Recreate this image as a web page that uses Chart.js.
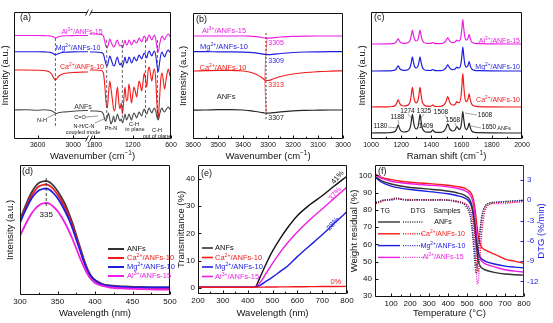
<!DOCTYPE html>
<html>
<head>
<meta charset="utf-8">
<script src="https://cdn.jsdelivr.net/npm/chart.js@4.4.0/dist/chart.umd.min.js"></script>
<style>
html, body { margin: 0; padding: 0; background: #fff; }
body { position: relative; width: 553px; height: 323px; overflow: hidden; }
</style>
</head>
<body>
<script>
// ---- data -----------------------------------------------------------
const samples = ['ANFs', 'Ca^{2+}/ANFs-10', 'Mg^{2+}/ANFs-10', 'Al^{3+}/ANFs-15'];

// (a) FTIR, broken axis
const ftirTickWave = [3600, 3000, 1800, 1200, 600];
const ftirLeftWave = [4000, 3800, 3600, 3500, 3450, 3400, 3360, 3330, 3300, 3280, 3250, 3200, 3150, 3100, 3000, 2900, 2800, 2750];
const ftirLeftANF = [29, 29.3, 28.8, 29.2, 29, 28.7, 28, 27, 26, 25.5, 26.2, 26.8, 27, 27.3, 27.8, 28.2, 28.5, 28.5];
const ftirLeftCa = [69, 69, 68.8, 68.5, 68, 67, 64.5, 61, 59, 60, 62.5, 64.5, 65.5, 66, 66.5, 66.7, 67, 67];
const ftirLeftMg = [87.3, 87.3, 87.2, 87.1, 87, 86.7, 86.2, 85.2, 84.2, 84.6, 85.5, 86.3, 86.7, 86.9, 87.1, 87.2, 87.2, 87.2];
const ftirLeftAl = [103.5, 103.5, 103.5, 103.4, 103.3, 103.1, 102.8, 102, 101, 101.4, 102.3, 102.9, 103.2, 103.3, 103.4, 103.5, 103.5, 103.5];
const ftirRightWave = [1870, 1780, 1700, 1660, 1640, 1620, 1600, 1580, 1560, 1540, 1520, 1500, 1480, 1460, 1440, 1420, 1400, 1380, 1360, 1340, 1320, 1300, 1280, 1260, 1240, 1220, 1200, 1180, 1160, 1140, 1120, 1100, 1080, 1060, 1040, 1020, 1000, 980, 960, 940, 920, 900, 880, 860, 840, 820, 800, 780, 760, 740, 720, 700, 680, 660, 640, 620, 600];
const ftirRightANF = [28, 28, 27.5, 25, 20, 18, 22, 26, 20, 15, 18, 23, 17, 20, 25, 21, 18, 20, 16, 20, 25, 19, 21, 25, 22, 19, 23, 26, 24, 21, 24, 27, 25, 23, 27, 30, 27, 25, 29, 31, 28, 26, 29, 31, 28, 22, 19, 24, 29, 31, 28, 27, 29, 31, 32, 30, 29];
const ftirRightCa = [69, 69, 68.5, 66, 55, 38, 31, 45, 58, 50, 40, 30, 28, 42, 52, 38, 30, 36, 25, 40, 52, 38, 40, 55, 47, 36, 44, 52, 48, 42, 50, 58, 54, 48, 56, 66, 60, 52, 68, 72, 64, 58, 66, 70, 60, 35, 20, 40, 60, 66, 58, 50, 58, 66, 70, 64, 62];
const ftirRightMg = [87, 87, 86.5, 85, 80, 75, 73, 78, 83, 80, 76, 73, 74, 79, 82, 77, 74, 76, 72, 77, 82, 76, 77, 82, 80, 76, 78, 82, 80, 78, 81, 84, 82, 80, 83, 86, 84, 81, 86, 88, 85, 83, 86, 88, 84, 74, 67, 76, 84, 87, 84, 82, 85, 88, 89, 87, 86];
const ftirRightAl = [105, 105, 104.5, 103, 98, 93, 91, 95, 100, 97, 94, 92, 93, 97, 99, 95, 93, 94, 91, 95, 99, 94, 95, 99, 97, 94, 96, 99, 97, 96, 98, 101, 99, 97, 100, 103, 101, 98, 102, 104, 101, 99, 102, 104, 100, 92, 87, 94, 100, 103, 101, 99, 102, 104, 105, 103, 102];

// (b) FTIR N-H region
const nhTicks = [3600, 3500, 3400, 3300, 3200, 3100, 3000];
const nhWave = [3600, 3550, 3500, 3450, 3400, 3375, 3350, 3325, 3313, 3300, 3280, 3250, 3200, 3150, 3100, 3050, 3000];
const nhANF = [28.8, 29, 29.3, 29.4, 29, 28.3, 27.5, 26.5, 26, 25.8, 26.3, 27.2, 28.2, 28.6, 28.8, 29, 29];
const nhCa = [68, 68.3, 68.6, 68.6, 68, 67, 65, 61.5, 59, 58.5, 60, 62.5, 65, 66.5, 67.3, 67.8, 68.2];
const nhMg = [87.3, 87.3, 87.2, 87.1, 86.9, 86.6, 86.1, 85.2, 84.6, 84.4, 84.7, 85.5, 86.5, 87, 87.2, 87.3, 87.3];
const nhAl = [103, 103, 103, 103, 103, 102.8, 102.3, 101.5, 101, 100.8, 101.2, 102, 102.6, 102.9, 103, 103, 103];

// (c) Raman
const ramanTicks = [1000, 1200, 1400, 1600, 1800, 2000];
const ramanShift = [1000, 1100, 1140, 1160, 1170, 1176, 1180, 1186, 1192, 1200, 1215, 1235, 1250, 1260, 1267, 1274, 1281, 1288, 1300, 1312, 1318, 1325, 1332, 1340, 1352, 1370, 1390, 1402, 1409, 1416, 1430, 1460, 1480, 1495, 1502, 1508, 1514, 1522, 1540, 1555, 1563, 1568, 1574, 1585, 1596, 1602, 1608, 1614, 1622, 1632, 1642, 1650, 1658, 1668, 1685, 1720, 1800, 1900, 2000];
const ramanANF = [6, 6.2, 6.6, 7.7, 10, 12.8, 14, 11.8, 9.4, 7.9, 7, 7.3, 8.5, 11.6, 17.6, 24.6, 18, 12.3, 10, 12.7, 18, 24.6, 17.3, 10.8, 7.9, 6.8, 6.9, 7.8, 9.2, 7.8, 6.6, 6.7, 7.5, 10.2, 13.3, 15.2, 13.4, 10.1, 8, 8.8, 11, 12.5, 11.4, 9.6, 12.7, 19.6, 27.3, 19.9, 11.8, 9.4, 11.8, 15.9, 11.1, 7.9, 6.7, 6.3, 6.1, 6, 6];
const ramanCa = [32, 32.2, 32.5, 33.5, 35.7, 38.2, 39.2, 37.3, 35.1, 33.7, 33, 33.3, 34.6, 37.9, 44.2, 51.6, 44.6, 38.6, 36.2, 39.1, 44.6, 51.6, 43.9, 37.1, 34, 32.8, 32.7, 33.3, 34.2, 33.3, 32.5, 32.7, 33.7, 36.7, 40.1, 42.3, 40.3, 36.6, 34, 34.4, 36.2, 37.4, 36.5, 36.4, 42.5, 53.3, 65.4, 53.7, 41, 37.3, 39.7, 45.2, 38.8, 34.6, 33, 32.4, 32.1, 32, 32];
const ramanMg = [68, 68.1, 68.4, 69.1, 70.7, 72.5, 73.2, 71.8, 70.2, 69.2, 68.7, 68.9, 69.9, 72.2, 76.8, 82.1, 77.1, 72.8, 71, 73.1, 77.1, 82.1, 76.6, 71.7, 69.4, 68.6, 68.5, 68.9, 69.5, 68.9, 68.4, 68.4, 69, 70.8, 72.9, 74.2, 73, 70.8, 69.3, 69.7, 71, 71.9, 71.2, 71.2, 75.6, 83.3, 92, 83.6, 74.5, 71.8, 73.5, 77.5, 72.9, 69.9, 68.7, 68.3, 68.1, 68, 68];
const ramanAl = [95, 95.1, 95.4, 96.1, 97.7, 99.4, 100.1, 98.8, 97.2, 96.2, 95.7, 95.9, 96.9, 99.2, 103.7, 109, 104, 99.8, 98, 100.1, 104, 109, 103.6, 98.7, 96.4, 95.6, 95.5, 95.9, 96.5, 95.9, 95.4, 95.4, 96, 97.8, 99.9, 101.2, 100, 97.8, 96.3, 96.7, 98, 98.9, 98.2, 98.2, 102.8, 110.8, 119.3, 111, 101.6, 98.8, 100.5, 104.6, 99.9, 96.9, 95.7, 95.3, 95.1, 95, 95];

// (d) fluorescence
const flTicks = [300, 350, 400, 450, 500];
const flWave = [300, 305, 310, 315, 320, 325, 330, 335, 340, 345, 350, 355, 360, 365, 370, 375, 380, 385, 390, 395, 400, 410, 420, 440, 460, 480, 500];
const flANF = [75, 85, 94, 102, 108, 112, 113.5, 114, 112.5, 109, 104, 98, 91, 82, 72, 60, 48, 36, 26, 19, 15, 11, 9.5, 8.5, 8, 7.5, 7.5];
const flCa = [73, 82.5, 91, 98.5, 104.5, 108.5, 110, 110.5, 109, 105.5, 100.5, 94.5, 87.5, 79, 69, 57.5, 46, 34.5, 25, 18, 14.5, 10.5, 9, 8, 7.5, 7, 7];
const flMg = [72, 81, 89, 96, 101, 104.5, 106, 106.5, 105, 101.5, 97, 91, 84, 76, 66.5, 55.5, 44.5, 33.5, 24.5, 18, 14.5, 10.5, 9, 8, 7.5, 7.5, 7.5];
const flAl = [59, 67, 74.5, 81, 86, 89.5, 91.5, 92, 91, 88, 84, 78.5, 72, 64.5, 56, 46.5, 37, 28.5, 21, 15.5, 12, 9, 7.5, 6.5, 6, 5.5, 5.5];

// (e) transmittance
const trXTicks = [200, 300, 400, 500, 600, 700, 800];
const trYTicks = [0, 10, 20, 30, 40];
const trWave = [200, 300, 400, 430, 450, 475, 500, 530, 560, 600, 650, 700, 750, 800];
const trANF = [0.3, 0.3, 0.3, 0.4, 4, 9, 13.5, 18, 22, 26.5, 30.5, 33.8, 37.5, 41];
const trCa = [0.3, 0.3, 0.3, 0.3, 0.32, 0.35, 0.38, 0.4, 0.43, 0.46, 0.5, 0.54, 0.57, 0.6];
const trMg = [0.3, 0.3, 0.3, 0.3, 1, 2.5, 4, 6, 8, 11.5, 15.5, 19.5, 23.8, 28];
const trAl = [0.3, 0.3, 0.3, 0.3, 2, 5.5, 9, 13, 16.5, 20.5, 25, 29, 33, 37];

// (f) TG / DTG
const tgXTicks = [100, 200, 300, 400, 500, 600, 700, 800];
const tgYTicks = [30, 40, 50, 60, 70, 80, 90, 100];
const dtgYTicks = [-12, -9, -6, -3, 0, 3];
const tgTemp = [20, 50, 100, 150, 200, 250, 300, 350, 400, 450, 480, 500, 510, 520, 530, 540, 550, 560, 570, 580, 600, 650, 700, 750, 800];
const tgANF = [99, 96.8, 95, 93.8, 93, 92.5, 92, 91.5, 90.8, 89.8, 88.8, 87.5, 86.5, 84.5, 80, 71, 58, 50, 47.3, 46.2, 45, 43.6, 42.8, 42.4, 42.2];
const tgCa = [100.5, 98.8, 97.5, 96.6, 96, 95.6, 95.2, 94.8, 94.3, 93.5, 92.8, 91.8, 91, 89.8, 87.5, 82, 73, 64, 60, 58, 56.5, 54, 51.5, 50.3, 49];
const tgMg = [98.5, 96, 93.8, 92.6, 91.8, 91.2, 90.6, 90, 89.3, 88.2, 87.2, 86, 85, 83, 79, 71, 61, 55, 52.5, 51.3, 50, 48.5, 47.4, 46.8, 46.4];
const tgAl = [100, 98.2, 96.6, 95.7, 95.1, 94.7, 94.3, 93.9, 93.3, 92.4, 91.5, 90.4, 89.5, 88, 85, 78, 66, 55, 51.5, 50, 48.5, 46.8, 45.3, 44.5, 44];
const dtgTemp = [20, 40, 60, 80, 100, 130, 160, 200, 240, 280, 320, 360, 400, 440, 470, 490, 510, 520, 530, 540, 545, 550, 555, 560, 565, 570, 580, 590, 600, 620, 650, 700, 750, 800];
const dtgANF = [-0.4, -0.2, 0, 0, 0.1, 0.3, 0.1, 0, 0.1, 0, 0.1, 0, 0, -0.2, -0.4, -0.8, -1.8, -3, -5.5, -9, -10.5, -10.8, -9.5, -7.5, -5.5, -4, -2, -1.1, -0.7, -0.4, -0.3, -0.2, -0.1, 0];
const dtgCa = [-0.5, -0.3, -0.1, 0, 0.1, 0.2, 0.1, 0.1, 0, 0.1, 0, 0.1, 0, -0.1, -0.3, -0.5, -1, -1.6, -2.8, -5, -6.8, -8.8, -10.3, -10.5, -9.3, -7.5, -4.2, -2.2, -1.2, -0.6, -0.4, -0.3, -0.3, -0.2];
const dtgMg = [-0.3, -0.2, 0, 0.1, 0, 0.2, 0.1, 0, 0.1, 0, 0, 0.1, 0, -0.2, -0.4, -0.7, -1.5, -2.6, -4.8, -7.8, -9.3, -9.8, -9.2, -7.5, -5.8, -4.2, -2.2, -1.2, -0.7, -0.4, -0.3, -0.2, -0.1, 0];
const dtgAl = [-0.4, -0.2, 0, 0, 0.2, 0.3, 0.1, 0, 0, 0.1, 0, 0, 0, -0.1, -0.3, -0.5, -1.1, -1.8, -3.2, -6, -8.5, -11, -12.4, -11.8, -9.5, -7, -3.5, -1.8, -1, -0.6, -0.5, -0.5, -0.3, -0.2];

// ---- styling helpers --------------------------------------------------
const K = '#262626', R = '#f21c1c', B = '#1e1ee0', P = '#ee1fe3';
const FAMILY = '"Liberation Sans", Arial, sans-serif';
Chart.defaults.font.family = FAMILY;
Chart.defaults.color = '#111';

const font = size => `${size}px ${FAMILY}`;

// draws "Ca^{2+}/ANFs-10" style text with superscripts
function richText(ctx, s, x, y, o) {
    const size = o.z || 7;
    const parts = [];
    const re = /\^\{([^}]*)\}/g;
    let last = 0, m;
    while ((m = re.exec(s))) {
        if (m.index > last) parts.push([s.slice(last, m.index), 0]);
        parts.push([m[1], 1]);
        last = re.lastIndex;
    }
    if (last < s.length) parts.push([s.slice(last), 0]);
    ctx.save();
    ctx.translate(x, y);
    if (o.r) ctx.rotate(o.r * Math.PI / 180);
    let w = 0;
    const ws = parts.map(p => {
        ctx.font = font(p[1] ? size * 0.68 : size);
        const pw = ctx.measureText(p[0]).width;
        w += pw;
        return pw;
    });
    let cx = o.al === 'left' ? 0 : o.al === 'right' ? -w : -w / 2;
    ctx.fillStyle = o.c || '#111';
    ctx.textBaseline = 'middle';
    ctx.textAlign = 'left';
    parts.forEach((p, i) => {
        ctx.font = font(p[1] ? size * 0.68 : size);
        ctx.fillText(p[0], cx, p[1] ? -size * 0.32 : 0);
        cx += ws[i];
    });
    ctx.restore();
}

const deco = {};

const decoPlugin = {
    id: 'deco',
    afterDraw(chart) {
        const d = deco[chart.canvas.id];
        if (!d) return;
        const ctx = chart.ctx, a = chart.chartArea, sx = chart.scales.x;
        const L = Math.round(a.left) + 0.5, T = Math.round(a.top) + 0.5;
        const Rr = Math.round(a.right) - 0.5, Bb = Math.round(a.bottom) - 0.5;
        const seg = (x1, y1, x2, y2, c, w) => {
            ctx.strokeStyle = c; ctx.lineWidth = w || 1;
            ctx.beginPath(); ctx.moveTo(x1, y1); ctx.lineTo(x2, y2); ctx.stroke();
        };
        ctx.save();
        // frame
        seg(L, T, Rr, T, '#111');
        seg(L, Bb, Rr, Bb, '#111');
        seg(L, T, L, Bb, '#111');
        seg(Rr, T, Rr, Bb, d.rightColor || '#111');
        // inward ticks
        const xt = sx.ticks.map(t => t.value);
        xt.forEach(v => { const p = Math.round(sx.getPixelForValue(v)) + 0.5; seg(p, Bb, p, Bb - 3, '#111'); });
        if (d.minorX) {
            for (let i = 0; i < xt.length - 1; i++) {
                const p = Math.round(sx.getPixelForValue((xt[i] + xt[i + 1]) / 2)) + 0.5;
                seg(p, Bb, p, Bb - 1.8, '#111');
            }
        }
        if (d.yTicks) {
            chart.scales.y.ticks.forEach(t => { const p = Math.round(chart.scales.y.getPixelForValue(t.value)) + 0.5; seg(L, p, L + 3, p, '#111'); });
        }
        if (chart.scales.y2) {
            chart.scales.y2.ticks.forEach(t => { const p = Math.round(chart.scales.y2.getPixelForValue(t.value)) + 0.5; seg(Rr, p, Rr - 3, p, d.rightColor); });
        }
        // axis break
        if (d.brk !== undefined) {
            const p = sx.getPixelForValue(d.brk);
            [Bb, T].forEach(yy => {
                ctx.fillStyle = '#fff';
                ctx.fillRect(p - 1.5, yy - 1, 3, 2);
                seg(p - 3.5, yy + 3, p - 0.5, yy - 3, '#111', 0.8);
                seg(p + 0.5, yy + 3, p + 3.5, yy - 3, '#111', 0.8);
            });
        }
        // titles
        const tz = d.tz || 9.5;
        if (d.xTitle) richText(ctx, d.xTitle[0], (a.left + a.right) / 2, a.bottom + d.xTitle[1], { z: tz });
        if (d.yTitle) richText(ctx, d.yTitle[0], a.left - d.yTitle[1], (a.top + a.bottom) / 2, { z: tz, r: -90 });
        if (d.y2Title) richText(ctx, d.y2Title[0], a.right + d.y2Title[1], (a.top + a.bottom) / 2, { z: tz, r: -90, c: d.rightColor });
        // notes
        const ys = id => chart.scales[id || 'y'];
        (d.items || []).forEach(it => {
            if (it.k === 't') {
                richText(ctx, it.s, sx.getPixelForValue(it.x), ys(it.axis).getPixelForValue(it.y), it);
            } else if (it.k === 'pt') {
                richText(ctx, it.s, a.left + it.ax, a.top + it.ay, it);
            } else {
                const pts = it.k === 'l'
                    ? it.pts.map(p => [sx.getPixelForValue(p[0]), ys(it.axis).getPixelForValue(p[1])])
                    : it.pts.map(p => [a.left + p[0], a.top + p[1]]);
                ctx.save();
                ctx.strokeStyle = it.c || '#333';
                ctx.lineWidth = it.w || 0.8;
                ctx.setLineDash(it.dash || []);
                ctx.beginPath();
                pts.forEach((p, i) => i ? ctx.lineTo(p[0], p[1]) : ctx.moveTo(p[0], p[1]));
                ctx.stroke();
                ctx.restore();
            }
        });
        ctx.restore();
    }
};
Chart.register(decoPlugin);

function series(xs, ys, color, extra) {
    return Object.assign({
        data: xs.map((x, i) => ({ x, y: ys[i] })),
        borderColor: color,
        backgroundColor: color,
        borderWidth: 1.2,
        pointRadius: 0,
        fill: false,
        cubicInterpolationMode: 'monotone'
    }, extra || {});
}

// box = [left, top, width, height] of canvas; area = [left, top, right, bottom] of plot frame (page px)
function makeChart(id, box, area, cfg) {
    const cv = document.createElement('canvas');
    cv.id = id;
    cv.width = box[2];
    cv.height = box[3];
    cv.style.cssText = `position:absolute;left:${box[0]}px;top:${box[1]}px;width:${box[2]}px;height:${box[3]}px;`;
    document.body.appendChild(cv);
    const leftW = area[0] - box[0];
    const topP = area[1] - box[1];
    const rightW = box[0] + box[2] - area[2];
    const bottomH = box[1] + box[3] - area[3];
    const tickFont = { size: cfg.tickSize || 7 };
    const noGrid = { display: false, drawTicks: false };
    const scales = {
        x: Object.assign({
            type: 'linear',
            grid: noGrid,
            border: { display: false },
            ticks: { font: tickFont, color: '#111', padding: cfg.xPad || 2, maxRotation: 0, autoSkip: false, callback: cfg.xLabel || (v => String(v)) },
            afterBuildTicks: s => { s.ticks = cfg.xTicks.map(v => ({ value: v })); },
            afterFit: s => { s.height = bottomH; s.paddingLeft = 0; s.paddingRight = 0; }
        }, cfg.x),
        y: Object.assign({
            type: 'linear',
            grid: noGrid,
            border: { display: false },
            ticks: { display: !!cfg.yTicks, font: tickFont, color: '#111', padding: 3 },
            afterBuildTicks: s => { if (cfg.yTicks) s.ticks = cfg.yTicks.map(v => ({ value: v })); },
            afterFit: s => { s.width = leftW; s.paddingTop = 0; s.paddingBottom = 0; }
        }, cfg.y)
    };
    if (cfg.y2) {
        scales.y2 = Object.assign({
            type: 'linear',
            position: 'right',
            grid: noGrid,
            border: { display: false },
            ticks: { font: tickFont, color: B, padding: 3, callback: v => String(v) },
            afterBuildTicks: s => { s.ticks = cfg.y2Ticks.map(v => ({ value: v })); },
            afterFit: s => { s.width = rightW; s.paddingTop = 0; s.paddingBottom = 0; }
        }, cfg.y2);
    }
    deco[id] = cfg.deco;
    return new Chart(cv, {
        type: 'line',
        data: { datasets: cfg.datasets },
        options: {
            responsive: false,
            animation: false,
            devicePixelRatio: 1,
            events: [],
            layout: { autoPadding: false, padding: { top: topP, right: cfg.y2 ? 0 : rightW, left: 0, bottom: 0 } },
            plugins: { legend: { display: false }, tooltip: { enabled: false } },
            scales
        }
    });
}

// ---- (a) FTIR full range with break ------------------------------------
const mapA = w => w >= 2750 ? (4000 - w) / 1250 * 74 : 76 + (1870 - w) / 1270 * 81;
const broken = (left, right) => ftirLeftWave.map((w, i) => ({ x: mapA(w), y: left[i] }))
    .concat([{ x: 75, y: null }])
    .concat(ftirRightWave.map((w, i) => ({ x: mapA(w), y: right[i] })));
const ftirLine = (left, right, color) => ({
    data: broken(left, right), borderColor: color, borderWidth: 1.1, pointRadius: 0,
    fill: false, cubicInterpolationMode: 'monotone', spanGaps: false
});
const dashA = w => ({ k: 'l', pts: [[mapA(w), 99], [mapA(w), 19]], dash: [3, 2], c: '#444', w: 0.8 });

makeChart('chartA', [0, 0, 182, 163], [14, 12, 171, 139], {
    tickSize: 7,
    x: { min: 0, max: 157 },
    y: { min: 0, max: 127 },
    xTicks: ftirTickWave.map(mapA),
    xLabel: (v, i) => String(ftirTickWave[i]),
    datasets: [
        ftirLine(ftirLeftANF, ftirRightANF, '#4a4a4a'),
        ftirLine(ftirLeftCa, ftirRightCa, R),
        ftirLine(ftirLeftMg, ftirRightMg, B),
        ftirLine(ftirLeftAl, ftirRightAl, P)
    ],
    deco: {
        xTitle: ['Wavenumber (cm^{−1})', 17], yTitle: ['Intensity (a.u.)', 9], brk: 75,
        items: [
            { k: 'l', pts: [[mapA(3300), 101], [mapA(3300), 12]], dash: [3, 2], c: '#444', w: 0.8 },
            dashA(1608), dashA(1363), dashA(1000), dashA(813),
            { k: 'pt', ax: 6, ay: 6, s: '(a)', z: 9, al: 'left' },
            { k: 'pt', ax: 68, ay: 20, s: samples[3], c: P, z: 7 },
            { k: 'pt', ax: 64, ay: 36, s: samples[2], c: B, z: 7 },
            { k: 'pt', ax: 68, ay: 55, s: samples[1], c: R, z: 7 },
            { k: 'pt', ax: 69, ay: 95, s: 'ANFs', c: '#333', z: 7 },
            { k: 'pt', ax: 28, ay: 108, s: 'N-H', z: 5.5 },
            { k: 'pt', ax: 66, ay: 105, s: 'C=O', z: 5.5 },
            { k: 'pt', ax: 70, ay: 114, s: 'N-H/C-N', z: 5.5 },
            { k: 'pt', ax: 69, ay: 120, s: 'coupled mode', z: 5.5 },
            { k: 'pt', ax: 97, ay: 116, s: 'Ph-N', z: 5.5 },
            { k: 'pt', ax: 120, ay: 112, s: 'C-H', z: 5.5 },
            { k: 'pt', ax: 121, ay: 117.5, s: 'in plane', z: 5.5 },
            { k: 'pt', ax: 143, ay: 118, s: 'C-H', z: 5.5 },
            { k: 'pt', ax: 143, ay: 124, s: 'out of plane', z: 5.5 },
            { k: 'pl', pts: [[33, 106], [41, 102]], c: '#555', w: 0.6 },
            { k: 'pl', pts: [[72, 105], [84, 104]], c: '#555', w: 0.6 },
            { k: 'pl', pts: [[81, 111], [92, 106]], c: '#555', w: 0.6 },
            { k: 'pl', pts: [[97, 112], [99, 107]], c: '#555', w: 0.6 }
        ]
    }
});

// ---- (b) N-H stretching ------------------------------------------------
makeChart('chartB', [176, 0, 182, 163], [193, 13, 343, 139], {
    tickSize: 7,
    x: { min: 3000, max: 3600, reverse: true },
    y: { min: 0, max: 126 },
    xTicks: nhTicks,
    datasets: [
        series(nhWave, nhANF, K),
        series(nhWave, nhCa, R),
        series(nhWave, nhMg, B),
        series(nhWave, nhAl, P)
    ],
    deco: {
        xTitle: ['Wavenumber (cm^{−1})', 17], yTitle: ['Intensity (a.u.)', 10], minorX: true,
        items: [
            { k: 'l', pts: [[3308, 106], [3308, 20]], dash: [2, 2], c: K, w: 0.9 },
            { k: 'l', pts: [[3304, 100.8], [3309, 84.4], [3313, 58.6], [3307, 25.8]], c: R, w: 0.6 },
            { k: 'pt', ax: 3, ay: 7, s: '(b)', z: 9, al: 'left' },
            { k: 'pt', ax: 31, ay: 18, s: samples[3], c: P, z: 7.5 },
            { k: 'pt', ax: 31, ay: 34, s: samples[2], c: B, z: 7.5 },
            { k: 'pt', ax: 30, ay: 55, s: samples[1], c: R, z: 7.5 },
            { k: 'pt', ax: 33, ay: 84, s: 'ANFs', c: K, z: 7.5 },
            { k: 't', x: 3299, y: 96, s: '3305', c: P, z: 7, al: 'left' },
            { k: 't', x: 3299, y: 78, s: '3309', c: B, z: 7, al: 'left' },
            { k: 't', x: 3299, y: 54, s: '3313', c: R, z: 7, al: 'left' },
            { k: 't', x: 3299, y: 21, s: '3307', c: K, z: 7, al: 'left' }
        ]
    }
});

// ---- (c) Raman ---------------------------------------------------------
const peakLabels = [
    ['1180', 9.5, 114.7], ['1188', 26.5, 105.3], ['1274', 36.5, 99.7], ['1325', 53, 99.7],
    ['1409', 55, 114.7], ['1508', 70, 100.7], ['1568', 82, 108.7], ['1608', 114, 103], ['1650', 118, 115.7]
];
const leaders = [
    [[17, 115], [26, 116]], [[27, 108], [28, 113]], [[37, 102], [40, 106]], [[53, 102], [50, 106]],
    [[59, 112], [62, 116]], [[74, 103], [78, 110]], [[84, 111], [86, 116]], [[106, 103], [94, 101]], [[110, 116], [100, 114]]
];
makeChart('chartC', [356, 0, 197, 163], [371, 12, 522, 139], {
    tickSize: 7,
    x: { min: 1000, max: 2000 },
    y: { min: 0, max: 127 },
    xTicks: ramanTicks,
    datasets: [
        series(ramanShift, ramanANF, K),
        series(ramanShift, ramanCa, R),
        series(ramanShift, ramanMg, B),
        series(ramanShift, ramanAl, P)
    ],
    deco: {
        xTitle: ['Raman shift (cm^{−1})', 17], yTitle: ['Intensity (a.u.)', 9], minorX: true,
        items: [
            { k: 'pt', ax: 3, ay: 6, s: '(c)', z: 9, al: 'left' },
            { k: 'pt', ax: 149, ay: 29, s: samples[3], c: P, z: 7, al: 'right' },
            { k: 'pt', ax: 149, ay: 55, s: samples[2], c: B, z: 7, al: 'right' },
            { k: 'pt', ax: 149, ay: 88, s: samples[1], c: R, z: 7, al: 'right' },
            { k: 'pt', ax: 140, ay: 116, s: 'ANFs', c: K, z: 5.5, al: 'right' }
        ].concat(peakLabels.map(p => ({ k: 'pt', s: p[0], ax: p[1], ay: p[2], z: 6.5 })))
         .concat(leaders.map(p => ({ k: 'pl', pts: p, c: '#666', w: 0.6 })))
    }
});

// ---- (d) fluorescence ----------------------------------------------------
const legendRows = (x0, x1, tx, y0, dy, w) => [K, R, B, P].flatMap((c, i) => [
    { k: 'pl', pts: [[x0, y0 + dy * i], [x1, y0 + dy * i]], c: i === 0 ? '#333' : c, w: w },
    { k: 'pt', ax: tx, ay: y0 + dy * i, s: samples[i], c: i === 0 ? '#111' : c, z: 7.5, al: 'left' }
]);
makeChart('chartD', [0, 160, 180, 163], [20, 165, 170, 295], {
    tickSize: 8,
    x: { min: 300, max: 500 },
    y: { min: 0, max: 130 },
    xTicks: flTicks,
    datasets: [
        series(flWave, flAl, P, { borderWidth: 1.8 }),
        series(flWave, flMg, B, { borderWidth: 1.8 }),
        series(flWave, flCa, R, { borderWidth: 1.8 }),
        series(flWave, flANF, '#3a3a3a', { borderWidth: 1.8 })
    ],
    deco: {
        xTitle: ['Wavelength (nm)', 18], yTitle: ['Intensity (a.u.)', 10], minorX: true,
        items: [
            { k: 'l', pts: [[335, 117], [335, 87]], dash: [3, 2], c: '#333', w: 0.9 },
            { k: 't', x: 335, y: 80, s: '335', z: 8 },
            { k: 'pt', ax: 2, ay: 7, s: '(d)', z: 9, al: 'left' }
        ].concat(legendRows(88, 104, 107, 84, 9, 2))
    }
});

// ---- (e) transmittance ----------------------------------------------------
makeChart('chartE', [172, 160, 184, 163], [198, 165, 347, 294], {
    tickSize: 8,
    x: { min: 200, max: 800 },
    y: { min: -2.2, max: 45.1 },
    xTicks: trXTicks,
    yTicks: trYTicks,
    datasets: [
        series(trWave, trCa, R, { borderWidth: 1.4 }),
        series(trWave, trMg, B, { borderWidth: 1.4 }),
        series(trWave, trAl, P, { borderWidth: 1.4 }),
        series(trWave, trANF, '#111', { borderWidth: 1.4 })
    ],
    deco: {
        xTitle: ['Wavelength (nm)', 19], yTitle: ['Transmittance (%)', 17], yTicks: true, minorX: true,
        items: [
            { k: 'pt', ax: 3, ay: 9, s: '(e)', z: 9, al: 'left' },
            { k: 't', x: 762, y: 40.5, s: '41%', c: '#111', z: 7.5, r: -50 },
            { k: 't', x: 752, y: 34.5, s: '37%', c: P, z: 7.5, r: -50 },
            { k: 't', x: 744, y: 23.5, s: '28%', c: B, z: 7.5, r: -50 },
            { k: 't', x: 755, y: 2.2, s: '0%', c: R, z: 7.5 }
        ].concat(legendRows(4, 15, 17, 83, 9.5, 1.6))
    }
});

// ---- (f) TG / DTG --------------------------------------------------------
const tgColors = ['#333', R, B, P];
const tgLegend = [
    { k: 'pt', ax: 10, ay: 46, s: 'TG', z: 7 },
    { k: 'pt', ax: 43, ay: 46, s: 'DTG', z: 7 },
    { k: 'pt', ax: 72, ay: 46, s: 'Samples', z: 7 }
].concat(tgColors.flatMap((c, i) => {
    const yy = 57 + i * 11.8;
    return [
        { k: 'pl', pts: [[3, yy], [25, yy]], c: c, w: 1.4 },
        { k: 'pl', pts: [[28, yy], [48, yy]], c: c, w: 1.4, dash: [1, 1.3] },
        { k: 'pt', ax: 68, ay: yy, s: samples[i], c: i === 0 ? '#111' : c, z: 7 }
    ];
}));
makeChart('chartF', [348, 160, 205, 163], [375, 165, 524, 297], {
    tickSize: 8,
    x: { min: 15, max: 800 },
    y: { min: 29.5, max: 106 },
    y2: { min: -14.3, max: 5.2 },
    xTicks: tgXTicks,
    yTicks: tgYTicks,
    y2Ticks: dtgYTicks,
    datasets: [
        series(dtgTemp, dtgANF, '#333', { yAxisID: 'y2', borderWidth: 1.3, borderDash: [1, 1.3] }),
        series(dtgTemp, dtgCa, R, { yAxisID: 'y2', borderWidth: 1.3, borderDash: [1, 1.3] }),
        series(dtgTemp, dtgMg, B, { yAxisID: 'y2', borderWidth: 1.3, borderDash: [1, 1.3] }),
        series(dtgTemp, dtgAl, P, { yAxisID: 'y2', borderWidth: 1.3, borderDash: [1, 1.3] }),
        series(tgTemp, tgANF, '#333', { borderWidth: 1.4 }),
        series(tgTemp, tgMg, B, { borderWidth: 1.4 }),
        series(tgTemp, tgAl, P, { borderWidth: 1.4 }),
        series(tgTemp, tgCa, R, { borderWidth: 1.4 })
    ],
    deco: {
        xTitle: ['Temperature (°C)', 16], yTitle: ['Weight residual (%)', 21], y2Title: ['DTG (%/min)', 17],
        rightColor: B, yTicks: true, minorX: true,
        items: [{ k: 'pt', ax: 3, ay: 7, s: '(f)', z: 9, al: 'left' }].concat(tgLegend)
    }
});
</script>
</body>
</html>
